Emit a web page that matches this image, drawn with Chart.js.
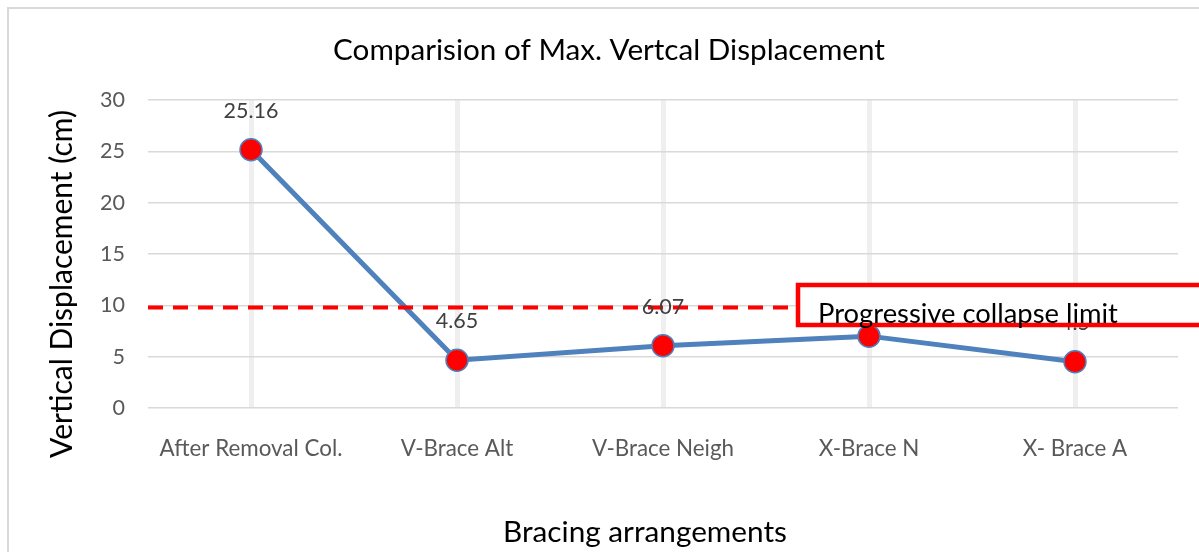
<!DOCTYPE html>
<html><head><meta charset="utf-8">
<script src="https://cdn.jsdelivr.net/npm/chart.js@4.4.1/dist/chart.umd.min.js"></script>
<style>html,body{margin:0;padding:0;background:#fff;overflow:hidden}</style>
</head><body>
<canvas id="c" width="1199" height="552" style="display:block;width:1199px;height:552px"></canvas>
<script>
const categories = ['After Removal Col.', 'V-Brace Alt', 'V-Brace Neigh', 'X-Brace N', 'X- Brace A'];
const displacement = [25.16, 4.65, 6.07, 7.0, 4.5];
const pointLabels = ['25.16', '4.65', '6.07', '7', '4.5'];
const yTicks = [0, 5, 10, 15, 20, 25, 30];
const collapseLimit = 9.8;
const chartTitle = 'Comparision of Max. Vertcal Displacement';
const yTitle = 'Vertical Displacement (cm)';
const xTitle = 'Bracing arrangements';
const limitLabel = 'Progressive collapse limit';

const FAMILY = 'Lato, "Open Sans", sans-serif';
const mctx = document.createElement('canvas').getContext('2d');
function fitSize(text, w) { mctx.font = '100px ' + FAMILY; return 100 * w / mctx.measureText(text).width; }
const xTickSize = fitSize('After Removal Col.', 183);
const yTickSize = fitSize('30', 25);
const labelSize = fitSize('25.16', 55);
const titleSize = fitSize(chartTitle, 552);
const yTitleSize = fitSize(yTitle, 348);
const xTitleSize = fitSize(xTitle, 284);
const limitSize = fitSize(limitLabel, 300);

const decor = {
  id: 'decor',
  beforeDraw(chart) {
    const ctx = chart.ctx; ctx.save();
    ctx.fillStyle = '#fff'; ctx.fillRect(0, 0, chart.width, chart.height);
    ctx.strokeStyle = '#d9d9d9'; ctx.lineWidth = 2;
    ctx.strokeRect(8, 8, chart.width + 40, chart.height + 40);
    ctx.restore();
  },
  afterDatasetsDraw(chart) {
    const ctx = chart.ctx, ys = chart.scales.y, area = chart.chartArea;
    ctx.save();
    const ly = ys.getPixelForValue(collapseLimit);
    ctx.strokeStyle = '#ff0000'; ctx.lineWidth = 4; ctx.setLineDash([15, 10]);
    ctx.beginPath(); ctx.moveTo(area.left, ly); ctx.lineTo(800, ly); ctx.stroke();
    ctx.setLineDash([]);
    const meta = chart.getDatasetMeta(0);
    ctx.fillStyle = '#404040'; ctx.font = labelSize + 'px ' + FAMILY;
    ctx.textAlign = 'center'; ctx.textBaseline = 'alphabetic';
    meta.data.forEach((pt, i) => { ctx.fillText(pointLabels[i], pt.x, pt.y - 32); });
    ctx.restore();
  },
  afterDraw(chart) {
    const ctx = chart.ctx; ctx.save();
    ctx.fillStyle = '#fff'; ctx.fillRect(798, 285, 500, 40);
    ctx.strokeStyle = '#ff0000'; ctx.lineWidth = 4.5; ctx.strokeRect(798, 285, 500, 40);
    ctx.fillStyle = '#000'; ctx.font = limitSize + 'px ' + FAMILY;
    ctx.textAlign = 'left'; ctx.textBaseline = 'alphabetic';
    ctx.fillText(limitLabel, 818, 323);
    ctx.textAlign = 'center';
    ctx.font = titleSize + 'px ' + FAMILY; ctx.fillText(chartTitle, 609, 60);
    ctx.font = xTitleSize + 'px ' + FAMILY; ctx.fillText(xTitle, 645, 542);
    ctx.translate(72, 284); ctx.rotate(-Math.PI / 2);
    ctx.font = yTitleSize + 'px ' + FAMILY; ctx.fillText(yTitle, 0, 0);
    ctx.restore();
  }
};

new Chart(document.getElementById('c'), {
  type: 'line',
  data: {
    labels: categories,
    datasets: [{
      data: displacement,
      borderColor: '#4f81bd', borderWidth: 5,
      pointRadius: 11, pointHoverRadius: 11,
      pointBackgroundColor: '#ff0000', pointBorderColor: '#4f81bd', pointBorderWidth: 1.5,
      tension: 0
    }]
  },
  options: {
    responsive: false, animation: false, devicePixelRatio: 1,
    layout: { padding: { left: 0, right: 21, top: 100, bottom: 0 } },
    plugins: { legend: { display: false }, tooltip: { enabled: false }, title: { display: false } },
    scales: {
      x: {
        offset: true,
        grid: { offset: false, color: '#efefef', lineWidth: 5, drawTicks: false },
        border: { display: false },
        ticks: { color: '#595959', font: { family: FAMILY, size: xTickSize }, padding: 27, maxRotation: 0, autoSkip: false },
        afterFit(s) { s.height = 144; }
      },
      y: {
        min: 0, max: 30,
        afterBuildTicks(s) { s.ticks = yTicks.map(v => ({ value: v })); },
        grid: { color: '#d9d9d9', lineWidth: 1.5, drawTicks: false },
        border: { display: false },
        ticks: { color: '#595959', font: { family: FAMILY, size: yTickSize }, padding: 23 },
        afterFit(s) { s.width = 148; }
      }
    }
  },
  plugins: [decor]
});
</script>
</body></html>
